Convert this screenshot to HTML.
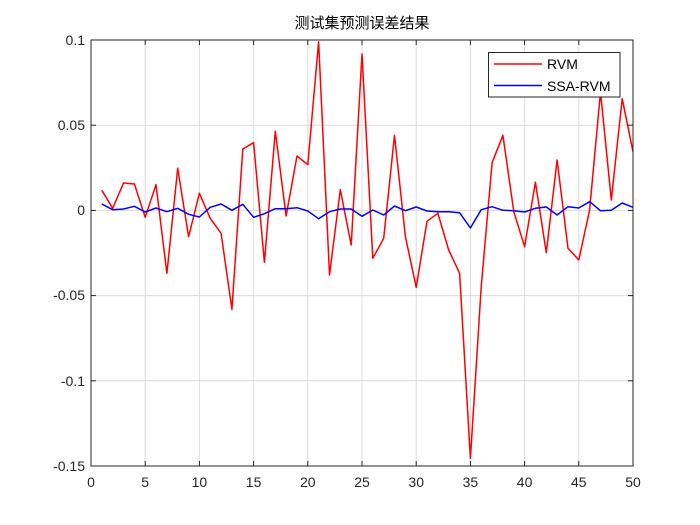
<!DOCTYPE html>
<html><head><meta charset="utf-8"><style>body{margin:0;background:#fff}svg{display:block}</style></head><body>
<svg width="700" height="525" xmlns="http://www.w3.org/2000/svg" font-family="Liberation Sans, sans-serif">
<rect width="700" height="525" fill="#fff"/>
<g stroke="#dcdcdc" stroke-width="1">
<line x1="145.2" y1="40" x2="145.2" y2="466"/><line x1="199.4" y1="40" x2="199.4" y2="466"/><line x1="253.6" y1="40" x2="253.6" y2="466"/><line x1="307.8" y1="40" x2="307.8" y2="466"/><line x1="362" y1="40" x2="362" y2="466"/><line x1="416.2" y1="40" x2="416.2" y2="466"/><line x1="470.4" y1="40" x2="470.4" y2="466"/><line x1="524.6" y1="40" x2="524.6" y2="466"/><line x1="578.8" y1="40" x2="578.8" y2="466"/>
<line x1="91" y1="125.2" x2="633" y2="125.2"/><line x1="91" y1="210.4" x2="633" y2="210.4"/><line x1="91" y1="295.6" x2="633" y2="295.6"/><line x1="91" y1="380.8" x2="633" y2="380.8"/>
</g>
<polyline fill="none" stroke="#ff0000" stroke-width="1.5" stroke-linejoin="round" points="101.8,190.3 112.7,208.3 123.5,183 134.4,184 145.2,217.3 156,184.7 166.9,273.3 177.7,168.3 188.6,236.7 199.4,193.3 210.2,218.3 221.1,233.3 231.9,309.3 242.8,149 253.6,142.7 264.4,262.3 275.3,131.3 286.1,216 297,156 307.8,164.7 318.6,41.7 329.5,275 340.3,189.7 351.2,245 362,54 372.8,258.3 383.7,238.3 394.5,135.3 405.4,236.7 416.2,287.3 427,221.3 437.9,213.3 448.7,250 459.6,273.3 470.4,458.5 481.2,287 492.1,162.7 502.9,135.3 513.8,211.7 524.6,246.7 535.4,182.3 546.3,252.7 557.1,160 568,248.3 578.8,260 589.6,210 600.5,92 611.3,200 622.2,98.7 633,151.7"/>
<polyline fill="none" stroke="#0000ff" stroke-width="1.5" stroke-linejoin="round" points="101.8,204 112.7,209.7 123.5,209 134.4,206.3 145.2,212 156,208 166.9,211.7 177.7,208.3 188.6,214.3 199.4,217 210.2,207.3 221.1,204 231.9,210.3 242.8,204.3 253.6,217.3 264.4,213.7 275.3,208.7 286.1,208.7 297,207.7 307.8,211 318.6,218.7 329.5,211.7 340.3,209 351.2,209 362,216.3 372.8,210 383.7,215 394.5,206 405.4,210.7 416.2,207 427,211 437.9,211.7 448.7,211.7 459.6,212.7 470.4,228 481.2,209.7 492.1,206.7 502.9,210.3 513.8,210.7 524.6,212 535.4,208.3 546.3,207 557.1,215 568,206.7 578.8,208 589.6,201.7 600.5,210.7 611.3,210.3 622.2,203 633,207.3"/>
<rect x="91" y="40" width="542" height="426" fill="none" stroke="#262626" stroke-width="1"/>
<g stroke="#262626" stroke-width="1">
<line x1="145.2" y1="466" x2="145.2" y2="461"/><line x1="199.4" y1="466" x2="199.4" y2="461"/><line x1="253.6" y1="466" x2="253.6" y2="461"/><line x1="307.8" y1="466" x2="307.8" y2="461"/><line x1="362" y1="466" x2="362" y2="461"/><line x1="416.2" y1="466" x2="416.2" y2="461"/><line x1="470.4" y1="466" x2="470.4" y2="461"/><line x1="524.6" y1="466" x2="524.6" y2="461"/><line x1="578.8" y1="466" x2="578.8" y2="461"/>
<line x1="145.2" y1="40" x2="145.2" y2="45"/><line x1="199.4" y1="40" x2="199.4" y2="45"/><line x1="253.6" y1="40" x2="253.6" y2="45"/><line x1="307.8" y1="40" x2="307.8" y2="45"/><line x1="362" y1="40" x2="362" y2="45"/><line x1="416.2" y1="40" x2="416.2" y2="45"/><line x1="470.4" y1="40" x2="470.4" y2="45"/><line x1="524.6" y1="40" x2="524.6" y2="45"/><line x1="578.8" y1="40" x2="578.8" y2="45"/>
<line x1="91" y1="125.2" x2="96" y2="125.2"/><line x1="91" y1="210.4" x2="96" y2="210.4"/><line x1="91" y1="295.6" x2="96" y2="295.6"/><line x1="91" y1="380.8" x2="96" y2="380.8"/>
<line x1="633" y1="125.2" x2="628" y2="125.2"/><line x1="633" y1="210.4" x2="628" y2="210.4"/><line x1="633" y1="295.6" x2="628" y2="295.6"/><line x1="633" y1="380.8" x2="628" y2="380.8"/>
</g>
<g font-size="14" fill="#262626" text-anchor="middle">
<text x="91" y="487">0</text><text x="145.2" y="487">5</text><text x="199.4" y="487">10</text><text x="253.6" y="487">15</text><text x="307.8" y="487">20</text><text x="362" y="487">25</text><text x="416.2" y="487">30</text><text x="470.4" y="487">35</text><text x="524.6" y="487">40</text><text x="578.8" y="487">45</text><text x="633" y="487">50</text>
</g>
<g font-size="14" fill="#262626" text-anchor="end">
<text x="85" y="45">0.1</text><text x="85" y="130">0.05</text><text x="85" y="215">0</text><text x="85" y="300">-0.05</text><text x="85" y="386">-0.1</text><text x="85" y="471">-0.15</text>
</g>
<text x="362" y="28" font-size="15" text-anchor="middle" fill="#000" font-family="Liberation Sans, Noto Sans CJK SC, sans-serif">测试集预测误差结果</text>
<rect x="488.5" y="52.5" width="131.5" height="44.5" fill="#fff" stroke="#262626" stroke-width="1"/>
<line x1="494" y1="64" x2="542" y2="64" stroke="#ff0000" stroke-width="1.5"/>
<line x1="494" y1="85.5" x2="542" y2="85.5" stroke="#0000ff" stroke-width="1.5"/>
<text x="547" y="69" font-size="14" fill="#000">RVM</text>
<text x="547" y="91" font-size="14" fill="#000">SSA-RVM</text>
</svg>
</body></html>
